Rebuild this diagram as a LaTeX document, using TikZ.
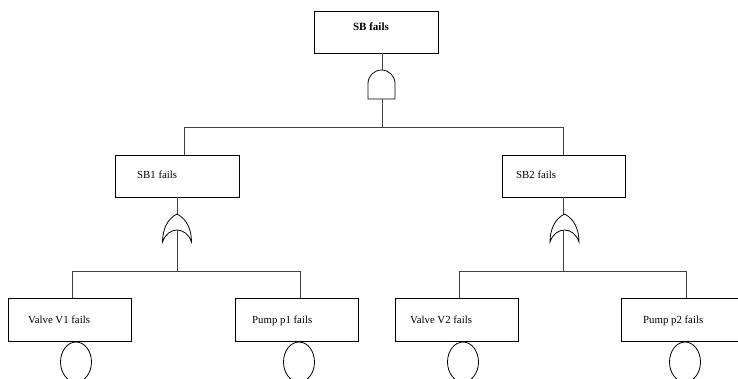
\documentclass[tikz,border=0pt]{standalone}
\usepackage{fontspec}
\setmainfont{Liberation Serif}
\usetikzlibrary{calc}
\tikzset{
  evbox/.style={draw=black, line width=0.8pt, rectangle, inner sep=0pt},
  lbl/.style={anchor=west, inner sep=0pt, font=\fontsize{10.8}{12}\selectfont},
  conn/.style={draw=black!75, line width=0.8pt},
  gate/.style={draw=black, line width=0.8pt},
}
\begin{document}
\begin{tikzpicture}[x=1pt,y=-1pt]
\clip (0,0) rectangle (738,378);
\fill[white] (0,0) rectangle (738,378);
% boxes
\node[evbox, minimum width=124pt, minimum height=42pt] (top) at (376,32) {};
\node[evbox, minimum width=124pt, minimum height=42pt] (sb1) at (177,176) {};
\node[evbox, minimum width=123pt, minimum height=42pt] (sb2) at (563.5,176) {};
\node[evbox, minimum width=123pt, minimum height=43pt] (v1) at (69.5,319.5) {};
\node[evbox, minimum width=123pt, minimum height=43pt] (p1) at (296.5,319.5) {};
\node[evbox, minimum width=123pt, minimum height=43pt] (v2) at (456.5,319.5) {};
\node[evbox, minimum width=130pt, minimum height=43pt] (p2) at (686,319.5) {};
% labels
\node[anchor=center, inner sep=0pt, font=\fontsize{11}{12}\selectfont\bfseries] (ttop) at (371,27) {SB fails};
\node[lbl] (tsb1) at (137,175) {SB1 fails};
\node[lbl] (tsb2) at (516,175) {SB2 fails};
\node[lbl] (tv1) at (28,320) {Valve V1 fails};
\node[lbl] (tp1) at (252,321) {Pump p1 fails};
\node[lbl] (tv2) at (410,320) {Valve V2 fails};
\node[lbl] (tp2) at (643,321) {Pump p2 fails};
% AND gate
\coordinate (andtop) at (382,70);
\coordinate (andbot) at (382,99);
\draw[gate] (368,99) -- (368,83.5) arc[start angle=180, end angle=360, radius=13.5] -- (395,99) -- cycle;
\draw[conn] (top.south -| andtop) -- (andtop);
\coordinate (h1l) at (184,127);
\coordinate (h1r) at (563,127);
\draw[conn] (andbot) -- (382,127);
\draw[conn] (sb1.north -| h1l) -- (h1l) -- (h1r) -- (sb2.north -| h1r);
% OR gates
\foreach \n/\cx in {or1/177, or2/564.5}{
  \draw[gate] (\cx,214) .. controls (\cx+10,219) and (\cx+14.5,230) .. (\cx+14.5,242)
     .. controls (\cx+9,226) and (\cx-9,226) .. (\cx-14.5,242)
     .. controls (\cx-14.5,230) and (\cx-10,219) .. (\cx,214);
}
\coordinate (or1top) at (177,214);
\coordinate (or1bot) at (177,230);
\coordinate (or2top) at (563,214);
\coordinate (or2bot) at (563,230);
\draw[conn] (sb1.south -| or1top) -- (or1top);
\draw[conn] (sb2.south -| or2top) -- (or2top);
\draw[conn] (or1bot) -- (177,271);
\draw[conn] (or2bot) -- (563,271);
% lower horizontals
\coordinate (h2l) at (72,271);
\coordinate (h2r) at (300,271);
\coordinate (h3l) at (459,271);
\coordinate (h3r) at (686,271);
\draw[conn] (v1.north -| h2l) -- (h2l) -- (h2r) -- (p1.north -| h2r);
\draw[conn] (v2.north -| h3l) -- (h3l) -- (h3r) -- (p2.north -| h3r);
% basic events
\foreach \n/\cx in {c1/76, c2/299, c3/463, c4/685}{
  \draw[gate] (\cx,362) ellipse[x radius=15.5, y radius=20];
}
\end{tikzpicture}
\end{document}
